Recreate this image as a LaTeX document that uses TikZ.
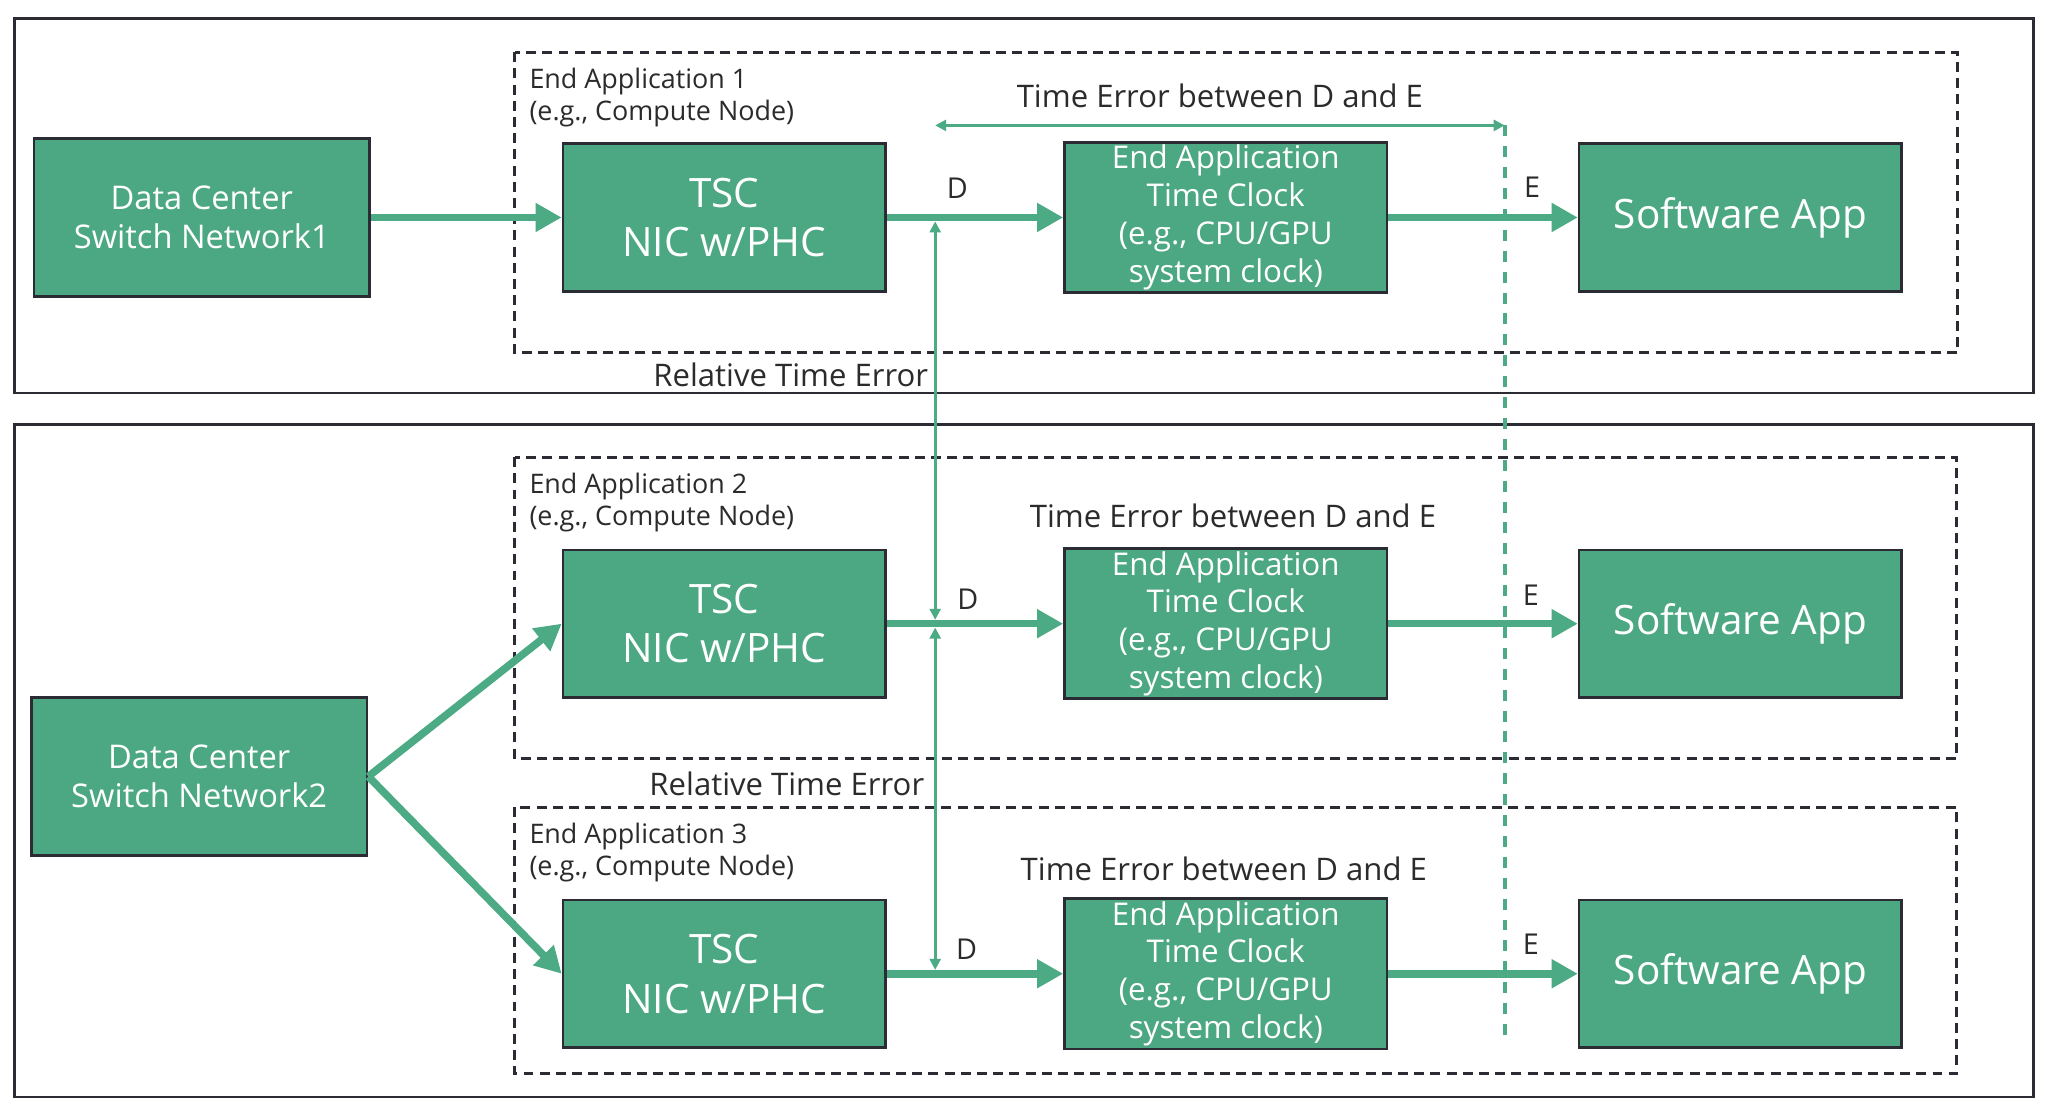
\documentclass[tikz,border=0pt]{standalone}
\usepackage{fontspec}
\setmainfont{Open Sans}
\usetikzlibrary{arrows.meta}
\definecolor{boxgreen}{HTML}{4CA783}
\definecolor{arrgreen}{HTML}{4CAA84}
\definecolor{edge}{HTML}{2A2B33}
\definecolor{txt}{HTML}{2B2B2B}
\tikzset{
  gbox/.style={draw=edge, line width=1pt, fill=boxgreen, text=white, align=center,
    minimum width=123.5pt, minimum height=56.5pt, inner sep=1pt},
  dcbox/.style={gbox, minimum width=128.5pt, minimum height=60.5pt},
  outerbox/.style={draw=edge, line width=1pt},
  dashbox/.style={draw=edge, line width=1.1pt, dash pattern=on 3.8pt off 2.4pt},
  bigarrow/.style={draw=arrgreen, line width=2.9pt, -{Triangle[length=10pt,width=10.5pt]}},
  thinarrow/.style={draw=arrgreen, line width=1pt, {Triangle[length=4.2pt,width=4.2pt]}-{Triangle[length=4.2pt,width=4.2pt]}},
  applbl/.style={text=txt, inner sep=0pt, anchor=north west, align=left, font=\fontsize{10.3}{12.2}\selectfont},
  telbl/.style={text=txt, inner sep=0pt, font=\fontsize{11.9}{13}\selectfont},
  pt/.style={text=txt, inner sep=0pt, font=\fontsize{11}{13}\selectfont},
}
\begin{document}
\begin{tikzpicture}[x=0.5pt, y=-0.5pt]
\useasboundingbox (0,0) rectangle (1568,847);
\fill[white] (0,0) rectangle (1568,847);
% outer frames
\draw[outerbox] (11,14) rectangle (1557,301);
\draw[outerbox] (11,325) rectangle (1557,840);
% dashed application boxes
\draw[dashbox] (394,40) rectangle (1499,270);
\draw[dashbox] (394,350) rectangle (1498,581);
\draw[dashbox] (394,618) rectangle (1498,822);
\node[applbl] (a1) at (405,52) {End Application 1\\(e.g., Compute Node)};
\node[applbl] (a2) at (405,362) {End Application 2\\(e.g., Compute Node)};
\node[applbl] (a3) at (405,630) {End Application 3\\(e.g., Compute Node)};

% switch networks
\node[dcbox, font=\fontsize{12.5}{15}\selectfont] (dc1) at (154.5,166.5) {Data Center\\Switch Network1};
\node[dcbox, font=\fontsize{12.5}{15}\selectfont] (dc2) at (152.5,594.5) {Data Center\\Switch Network2};

% rows
\foreach \r/\y in {1/166.5, 2/477.5, 3/745.5}{
  \node[gbox, font=\fontsize{15.5}{19}\selectfont] (tsc\r) at (554.5,\y) {TSC\\NIC w/PHC};
  \node[gbox, font=\fontsize{12}{14.5}\selectfont] (clk\r) at (938.5,\y) {End Application\\Time Clock\\(e.g., CPU/GPU\\system clock)};
  \node[gbox, font=\fontsize{15.5}{19}\selectfont] (sw\r) at (1332.5,\y) {Software App};
  \coordinate (d\r) at (716,\y);
}

% dashed green reference line (E)
\coordinate (etop) at (1152,96);
\coordinate (ebot) at (1152,795);
\draw[arrgreen, line width=1.5pt, dash pattern=on 4.2pt off 3.8pt] (etop) -- (ebot);

% main flow arrows
\draw[bigarrow] (dc1.east) -- (tsc1.west);
\draw[bigarrow] (dc2.east) -- (tsc2.west);
\draw[bigarrow] (dc2.east) -- (tsc3.west);
\foreach \r in {1,2,3}{
  \draw[bigarrow] (tsc\r.east) -- (clk\r.west);
  \draw[bigarrow] (clk\r.east) -- (sw\r.west);
}

% relative time error arrows
\draw[thinarrow, shorten <=1.5pt, shorten >=1.5pt] (d1) -- (d2);
\draw[thinarrow, shorten <=1.5pt, shorten >=1.5pt] (d2) -- (d3);
\node[telbl, anchor=east] (rte1) at (711,287) {Relative Time Error};
\node[telbl, anchor=east] (rte2) at (708,600) {Relative Time Error};

% time error between D and E
\coordinate (tstart) at (716,96);
\draw[thinarrow] (tstart) -- (etop);
\node[telbl] (te1) at (934,73) {Time Error between D and E};
\node[telbl] (te2) at (944,395) {Time Error between D and E};
\node[telbl] (te3) at (937,665) {Time Error between D and E};

% D / E labels
\node[pt] (D1) at (733,144) {D};
\node[pt] (D2) at (741,459) {D};
\node[pt] (D3) at (740,727) {D};
\node[pt] (E1) at (1173,143) {E};
\node[pt] (E2) at (1172,456) {E};
\node[pt] (E3) at (1172,723) {E};
\end{tikzpicture}
\end{document}
